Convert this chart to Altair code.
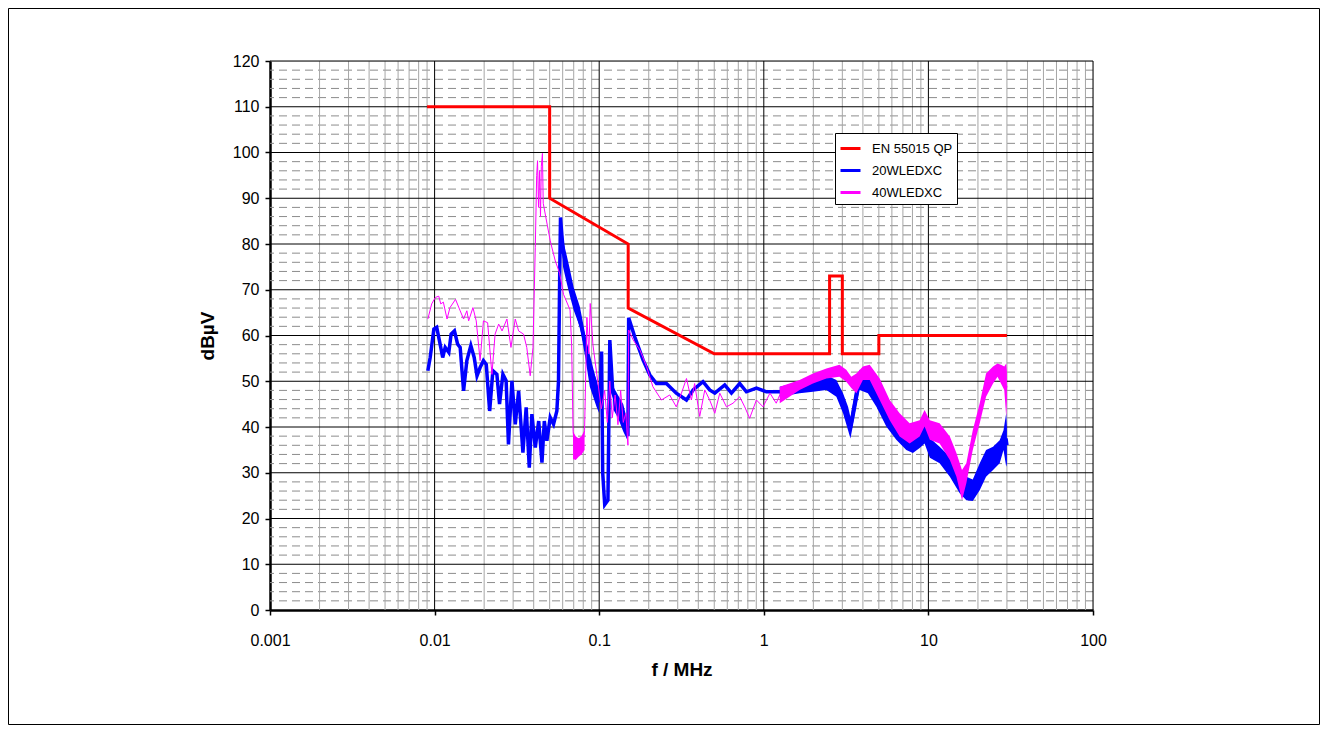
import altair as alt
import pandas as pd

# ---------------- data ----------------
SERIES = ["EN 55015 QP", "20WLEDXC", "40WLEDXC"]
COLORS = ["#ff0000", "#0000ff", "#ff00ff"]

LIMIT_F = [0.009, 0.05, 0.05, 0.15, 0.15, 0.5, 2.51, 2.51, 3.0, 3.0, 5.0, 5.0, 30.0]
LIMIT_DB = [110, 110, 90, 80, 66, 56, 56, 73, 73, 56, 56, 60, 60]

# 20WLEDXC trace (thin part)
B20_F = [0.0091, 0.0094, 0.0099, 0.0103, 0.0108, 0.0112, 0.0116, 0.0122, 0.0126, 0.0132,
         0.0138, 0.0143, 0.0150, 0.0157, 0.0166, 0.0174, 0.0181, 0.0189, 0.0198, 0.0206,
         0.0216, 0.0226, 0.0239, 0.0248, 0.0260, 0.0272, 0.0281, 0.0295, 0.0309, 0.0324,
         0.0344, 0.0360, 0.0376, 0.0390, 0.0409, 0.0429, 0.0449, 0.0464, 0.0481, 0.0504,
         0.0528, 0.0553, 0.0566, 0.0575, 0.0582, 0.0593, 0.0607, 0.0636, 0.0667, 0.0699,
         0.0731, 0.0783, 0.0842, 0.0902, 0.0967, 0.1013, 0.1034, 0.105, 0.108, 0.113,
         0.116, 0.121, 0.128, 0.135, 0.142, 0.1495, 0.151, 0.1644, 0.1848, 0.2028,
         0.2228, 0.256, 0.294, 0.339, 0.372, 0.427, 0.469, 0.504, 0.579, 0.636,
         0.714, 0.784, 0.902, 1.037]
B20_DB = [52.3, 55.2, 61.4, 61.8, 58.1, 55.2, 57.4, 56.3, 60.3, 61.0,
          58.1, 57.4, 47.9, 54.5, 57.8, 55.2, 51.2, 53.0, 54.5, 53.7,
          43.5, 52.3, 51.5, 45.0, 51.5, 50.1, 36.2, 50.1, 40.6, 47.9,
          34.4, 44.3, 31.1, 42.8, 35.5, 41.3, 32.2, 41.3, 37.0, 42.1,
          40.6, 43.5, 50.1, 72.0, 85.8, 82.0, 78.0, 74.5, 71.4, 68.0,
          65.5, 61.5, 56.8, 52.5, 48.0, 45.5, 56.5, 30.0, 23.0, 24.0,
          59.0, 47.4, 45.0, 43.0, 41.0, 38.0, 63.9, 59.7, 54.6, 51.4,
          49.5, 49.5, 47.4, 45.9, 48.1, 49.9, 48.1, 47.4, 49.2, 47.4,
          49.5, 47.7, 48.5, 47.7]
# 20WLEDXC noisy bands (frequency, lower edge, upper edge)
B20_BAND1_F = [0.0582, 0.0603, 0.0635, 0.0665, 0.0700, 0.0763, 0.0820, 0.0877, 0.0963, 0.1000]
B20_BAND1_LO = [84.0, 75.0, 71.5, 68.5, 65.5, 61.9, 55.5, 48.8, 44.4, 43.0]
B20_BAND1_HI = [85.8, 80.9, 77.5, 74.3, 70.5, 66.3, 60.5, 54.6, 50.3, 48.0]
B20_BAND2_F = [0.121, 0.130, 0.140, 0.149]
B20_BAND2_LO = [44.0, 42.0, 39.0, 37.0]
B20_BAND2_HI = [49.0, 47.0, 45.0, 41.0]
B20_BAND_F = [1.25, 1.65, 1.99, 2.40, 2.76, 3.03, 3.25, 3.36, 3.56, 3.82,
              4.29, 4.83, 5.55, 6.38, 7.34, 8.05, 8.85, 9.48, 10.2, 11.7,
              13.5, 15.5, 17.0, 18.6, 20.5, 22.4, 24.7, 27.1, 28.6, 29.7, 30.0]
B20_BAND_LO = [46.6, 47.4, 47.7, 48.1, 46.6, 43.0, 39.3, 37.5, 42.2, 48.1,
               47.4, 44.4, 40.1, 37.2, 35.0, 34.3, 35.4, 36.4, 33.3, 32.1,
               29.1, 25.5, 24.0, 23.8, 26.2, 29.1, 30.6, 32.1, 35.0, 31.3, 32.0]
B20_BAND_HI = [48.8, 49.9, 50.6, 51.3, 50.3, 47.4, 44.4, 42.2, 47.4, 52.5,
               51.7, 49.5, 45.2, 42.3, 39.3, 37.6, 38.6, 40.8, 37.6, 35.7,
               33.5, 30.6, 29.1, 28.5, 32.1, 35.0, 35.7, 37.1, 39.3, 43.0, 40.0]

# 40WLEDXC trace (thin part)
M40_F = [0.0091, 0.0096, 0.0101, 0.0106, 0.0109, 0.0113, 0.0119, 0.0124, 0.0134, 0.0143,
         0.0150, 0.0157, 0.0161, 0.0171, 0.0179, 0.0189, 0.0198, 0.0210, 0.0223, 0.0233,
         0.0245, 0.0257, 0.0275, 0.0291, 0.0309, 0.0324, 0.0347, 0.0363, 0.0381, 0.0396,
         0.0409, 0.0417, 0.0422, 0.0428, 0.0434, 0.0440, 0.0445, 0.0452, 0.0457, 0.0504,
         0.0541, 0.0575, 0.0607, 0.0665, 0.0680, 0.0694, 0.0720, 0.0750, 0.0780, 0.0815,
         0.0842, 0.0865, 0.0882, 0.0916, 0.0967, 0.103, 0.108, 0.112, 0.116, 0.120,
         0.125, 0.130, 0.135, 0.140, 0.145, 0.1495, 0.151, 0.161, 0.177, 0.194,
         0.212, 0.239, 0.268, 0.294, 0.316, 0.339, 0.363, 0.380, 0.408, 0.438,
         0.469, 0.504, 0.540, 0.593, 0.650, 0.714, 0.766, 0.820, 0.902, 0.989,
         1.09, 1.19]
M40_DB = [63.6, 66.9, 68.3, 68.6, 66.9, 67.3, 63.6, 66.1, 67.9, 65.4,
          63.6, 65.4, 63.2, 66.1, 63.2, 54.5, 63.2, 62.8, 51.5, 60.3,
          62.5, 61.0, 63.6, 57.4, 63.6, 61.0, 60.3, 57.4, 51.2, 57.4,
          79.2, 95.0, 98.2, 88.0, 96.0, 86.0, 97.0, 99.8, 88.9, 80.7,
          76.3, 73.6, 69.0, 65.6, 58.0, 39.0, 33.5, 37.5, 34.0, 39.3,
          64.0, 56.0, 67.0, 58.0, 51.5, 44.0, 48.0, 41.0, 50.0, 42.0,
          47.0, 40.5, 48.0, 41.0, 43.0, 36.0, 61.2, 59.0, 56.8, 53.2,
          48.8, 45.9, 47.0, 44.4, 47.4, 50.6, 45.9, 49.5, 42.3, 48.1,
          45.9, 43.0, 47.4, 44.4, 45.2, 46.6, 44.4, 41.9, 45.9, 44.4,
          47.4, 45.2]
M40_BAND1_F = [0.0694, 0.0720, 0.0750, 0.0780, 0.0815]
M40_BAND1_LO = [33.0, 32.8, 33.5, 34.0, 35.0]
M40_BAND1_HI = [39.0, 38.0, 37.5, 38.0, 39.3]
M40_BAND_F = [1.25, 1.65, 1.99, 2.40, 2.88, 3.17, 3.40, 3.65, 4.00, 4.40,
              5.06, 5.82, 6.69, 7.69, 8.85, 9.48, 10.2, 11.7, 13.5, 14.8,
              16.0, 17.0, 18.6, 20.5, 22.4, 24.7, 26.3, 27.6, 28.9, 29.7, 30.0]
M40_BAND_LO = [45.2, 48.1, 49.5, 50.6, 51.0, 49.9, 48.5, 47.4, 50.3, 50.3,
               45.9, 41.5, 37.9, 36.4, 37.9, 40.1, 37.2, 36.4, 32.8, 29.1,
               24.0, 27.7, 35.0, 40.8, 46.6, 49.5, 51.0, 49.5, 48.1, 42.2, 46.0]
M40_BAND_HI = [48.8, 50.3, 51.7, 52.8, 53.6, 52.5, 51.0, 51.7, 53.2, 53.6,
               50.6, 45.9, 43.0, 40.8, 41.5, 43.7, 41.5, 40.8, 37.9, 34.3,
               30.6, 32.1, 39.3, 45.2, 51.7, 53.2, 53.9, 53.6, 53.2, 53.9, 52.0]

X_TICKS = [0.001, 0.01, 0.1, 1, 10, 100]
Y_TICKS = [0, 10, 20, 30, 40, 50, 60, 70, 80, 90, 100, 110, 120]
X_MINOR = [k * d for d in [0.001, 0.01, 0.1, 1, 10] for k in range(2, 10)]
Y_MINOR = [v for v in range(2, 120, 2) if v % 10 != 0]

# ---------------- frames ----------------
def line_frame(name, F, D):
    return pd.DataFrame({"series": name, "f": F, "db": D, "i": list(range(len(F)))})

def band_frame(segments):
    rows = []
    for seg, (F, LO, HI) in enumerate(segments):
        for f, lo, hi in zip(F, LO, HI):
            rows.append({"seg": seg, "f": f, "lo": lo, "hi": hi})
    return pd.DataFrame(rows)

b_mid = [(a + b) / 2 for a, b in zip(B20_BAND_LO, B20_BAND_HI)]
m_mid = [(a + b) / 2 for a, b in zip(M40_BAND_LO, M40_BAND_HI)]
limit_df = line_frame(SERIES[0], LIMIT_F, LIMIT_DB)
b20_df = line_frame(SERIES[1], B20_F + B20_BAND_F, B20_DB + b_mid)
m40_df = line_frame(SERIES[2], M40_F + M40_BAND_F, M40_DB + m_mid)
b20_band = band_frame([(B20_BAND1_F, B20_BAND1_LO, B20_BAND1_HI),
                       (B20_BAND2_F, B20_BAND2_LO, B20_BAND2_HI),
                       (B20_BAND_F, B20_BAND_LO, B20_BAND_HI)])
m40_band = band_frame([(M40_BAND1_F, M40_BAND1_LO, M40_BAND1_HI),
                       (M40_BAND_F, M40_BAND_LO, M40_BAND_HI)])

FONT = "Liberation Sans"
W, H = 823, 549

xscale = alt.Scale(type="log", domain=[0.001, 100], nice=False)
yscale = alt.Scale(domain=[0, 120], nice=False, zero=False)
xaxis = alt.Axis(values=X_TICKS, format="~g", grid=False, tickSize=5, tickColor="black",
                 tickWidth=1.5, domainColor="black", domainWidth=2.5, labelFont=FONT,
                 labelFontSize=16, labelColor="black", labelPadding=17, labelFlush=False,
                 title="f / MHz", titleFont=FONT, titleFontSize=19, titleFontWeight="bold",
                 titleColor="black", titlePadding=12)
yaxis = alt.Axis(values=Y_TICKS, grid=False, tickSize=5, tickColor="black", tickWidth=1.5,
                 domainColor="black", domainWidth=2.5, labelFont=FONT, labelFontSize=16,
                 labelColor="black", labelPadding=6, title="dBµV", titleFont=FONT,
                 titleFontSize=19, titleFontWeight="bold", titleColor="black", titlePadding=15)

X = lambda fld: alt.X(fld, scale=xscale, axis=xaxis)
Y = lambda fld: alt.Y(fld, scale=yscale, axis=yaxis)

hminor = alt.Chart(pd.DataFrame({"db": Y_MINOR})).mark_rule(
    color="#8c8c8c", strokeWidth=1, strokeDash=[8, 5]).encode(y=Y("db:Q"))
vminor = alt.Chart(pd.DataFrame({"f": X_MINOR})).mark_rule(
    color="#a6a6a6", strokeWidth=1).encode(x=X("f:Q"))
hmajor = alt.Chart(pd.DataFrame({"db": Y_TICKS[1:]})).mark_rule(
    color="black", strokeWidth=1).encode(y=Y("db:Q"))
vmajor = alt.Chart(pd.DataFrame({"f": X_TICKS[1:]})).mark_rule(
    color="black", strokeWidth=1).encode(x=X("f:Q"))

b_area = alt.Chart(b20_band).mark_area(color=COLORS[1], opacity=1).encode(
    x=X("f:Q"), y=Y("lo:Q"), y2="hi:Q", detail="seg:N")
m_area = alt.Chart(m40_band).mark_area(color=COLORS[2], opacity=1).encode(
    x=X("f:Q"), y=Y("lo:Q"), y2="hi:Q", detail="seg:N")

legend = alt.Legend(orient="none", legendX=565, legendY=72, symbolType="stroke",
                    symbolSize=400, symbolStrokeWidth=3, labelFont=FONT, labelFontSize=13,
                    labelColor="black", labelOffset=10, rowPadding=3, padding=4,
                    fillColor="white", strokeColor="black", symbolOffset=0)
color = alt.Color("series:N", scale=alt.Scale(domain=SERIES, range=COLORS),
                  legend=legend, title=None)

def line(df, sw):
    return alt.Chart(df).mark_line(strokeWidth=sw, clip=True).encode(
        x=X("f:Q"), y=Y("db:Q"), color=color, order="i:Q")

frame = alt.Chart(pd.DataFrame({"a": [0]})).mark_rect(
    fillOpacity=0, stroke="black", strokeWidth=1).encode(
    x=alt.value(-261.5), x2=alt.value(1311.5 - 262), y=alt.value(-52.5), y2=alt.value(716.5 - 53))

chart = alt.layer(
    frame, hminor, vminor, hmajor, vmajor,
    line(limit_df, 3), b_area, line(b20_df, 3.5), m_area, line(m40_df, 1),
).properties(
    width=W, height=H,
    autosize=alt.AutoSizeParams(type="none"),
    padding={"left": 262, "top": 53, "right": 227, "bottom": 115},
).configure_view(strokeWidth=0).configure(font=FONT, background="white")

chart.save("out.html", embed_options={"renderer": "svg", "actions": False})
